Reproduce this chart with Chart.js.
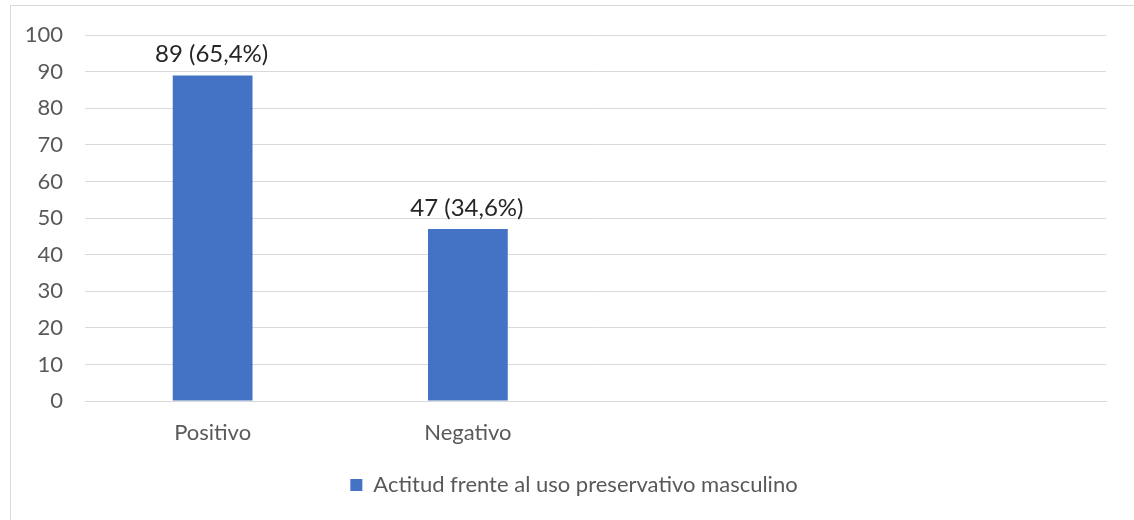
<!DOCTYPE html>
<html>
<head>
<meta charset="utf-8">
<script src="https://cdn.jsdelivr.net/npm/chart.js@4.4.1/dist/chart.umd.min.js"></script>
<style>
  html, body { margin: 0; padding: 0; background: #fff; }
  #cnt { position: relative; width: 1134px; height: 520px; overflow: hidden; }
  #marco { position: absolute; left: 10px; top: 5px; width: 1140px; height: 530px; border: 1px solid #d9d9d9; box-sizing: border-box; }
  #grafica { position: absolute; left: 0; top: 0; }
</style>
</head>
<body>
<div id="cnt">
  <div id="marco"></div>
  <canvas id="grafica" width="1134" height="520"></canvas>
</div>
<script>
  // datos
  const categorias = ['Positivo', 'Negativo', '', ''];
  const cantidades = [89, 47, null, null];
  const porcentajes = ['65,4', '34,6', '', ''];
  const serieNombre = 'Actitud frente al uso preservativo masculino';
  const ticksY = [0, 10, 20, 30, 40, 50, 60, 70, 80, 90, 100];

  const fuente = 'Lato, "Open Sans", sans-serif';

  // etiquetas encima de cada barra
  const etiquetasBarras = {
    id: 'etiquetasBarras',
    afterDatasetsDraw(chart) {
      const ctx = chart.ctx;
      const meta = chart.getDatasetMeta(0);
      ctx.save();
      ctx.font = '24px ' + fuente;
      ctx.fillStyle = '#262626';
      ctx.textAlign = 'center';
      ctx.textBaseline = 'bottom';
      meta.data.forEach(function(bar, i) {
        if (cantidades[i] == null) return;
        ctx.fillText(cantidades[i] + ' (' + porcentajes[i] + '%)', bar.x - 1, bar.y - 9);
      });
      ctx.restore();
    }
  };

  // la leyenda va centrada en el marco, no en el area del canvas
  const moverLeyenda = {
    id: 'moverLeyenda',
    afterLayout(chart) {
      if (chart.legend) {
        chart.legend.left += 21;
        chart.legend.right += 21;
      }
    }
  };

  const config = {
    type: 'bar',
    data: {
      labels: categorias,
      datasets: [{
        label: serieNombre,
        data: cantidades,
        backgroundColor: '#4472c4',
        borderWidth: 0,
        barPercentage: 0.625,
        categoryPercentage: 0.5
      }]
    },
    options: {
      responsive: false,
      animation: false,
      layout: { padding: { top: 33, right: 28, bottom: 14, left: 0 } },
      plugins: {
        tooltip: { enabled: false },
        legend: {
          position: 'bottom',
          labels: {
            boxWidth: 12,
            boxHeight: 12,
            padding: 10,
            color: '#595959',
            font: { family: fuente, size: 22 }
          }
        }
      },
      scales: {
        x: {
          grid: { display: false, drawTicks: false },
          border: { color: '#d9d9d9', width: 1 },
          ticks: { color: '#595959', padding: 19, font: { family: fuente, size: 22 } },
          afterFit(scale) { scale.height = 63; }
        },
        y: {
          min: 0,
          max: 100,
          afterBuildTicks(scale) { scale.ticks = ticksY.map(v => ({ value: v })); },
          grid: { color: '#d9d9d9', lineWidth: 1, drawTicks: false },
          border: { display: false },
          ticks: { color: '#595959', padding: 22, font: { family: fuente, size: 22 } },
          afterFit(scale) { scale.width = 85; }
        }
      }
    },
    plugins: [etiquetasBarras, moverLeyenda]
  };

  const ctx = document.getElementById('grafica').getContext('2d');
  window.graficaActitud = new Chart(ctx, config);
</script>
</body>
</html>
